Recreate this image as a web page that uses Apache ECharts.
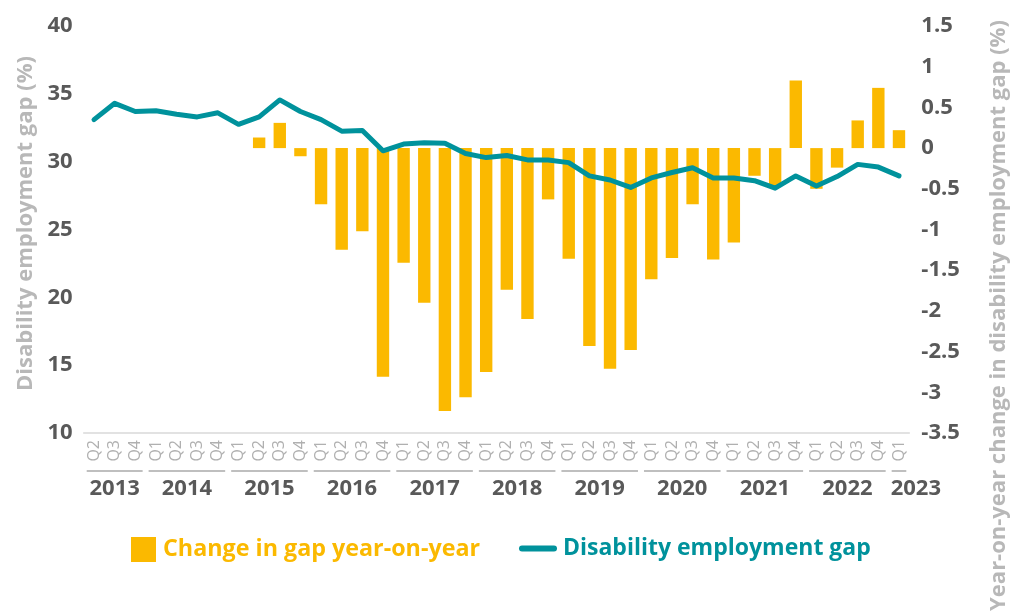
<!DOCTYPE html>
<html>
<head>
<meta charset="utf-8">
<title>Disability employment gap</title>
<script src="https://cdn.jsdelivr.net/npm/echarts@6/dist/echarts.min.js"></script>
<style>
  html, body { margin: 0; padding: 0; background: #ffffff; }
  #chart { width: 1014px; height: 614px; }
</style>
</head>
<body>
<div id="chart"></div>
<script>
// Quarterly periods, 2013 Q2 to 2023 Q1
const periods = [
  '2013 Q2', '2013 Q3', '2013 Q4',
  '2014 Q1', '2014 Q2', '2014 Q3', '2014 Q4',
  '2015 Q1', '2015 Q2', '2015 Q3', '2015 Q4',
  '2016 Q1', '2016 Q2', '2016 Q3', '2016 Q4',
  '2017 Q1', '2017 Q2', '2017 Q3', '2017 Q4',
  '2018 Q1', '2018 Q2', '2018 Q3', '2018 Q4',
  '2019 Q1', '2019 Q2', '2019 Q3', '2019 Q4',
  '2020 Q1', '2020 Q2', '2020 Q3', '2020 Q4',
  '2021 Q1', '2021 Q2', '2021 Q3', '2021 Q4',
  '2022 Q1', '2022 Q2', '2022 Q3', '2022 Q4',
  '2023 Q1'
];

// Disability employment gap (percentage points, left axis)
const gapValues = [
  33.1, 34.3, 33.7,
  33.75, 33.5, 33.3, 33.6,
  32.75, 33.3, 34.55, 33.7,
  33.1, 32.25, 32.3, 30.8,
  31.3, 31.4, 31.35, 30.6,
  30.3, 30.45, 30.13, 30.13,
  29.93, 28.95, 28.65, 28.1,
  28.8, 29.2, 29.55, 28.8,
  28.8, 28.6, 28.05, 28.95,
  28.2, 28.9, 29.8, 29.6,
  28.95
];

// Change in the gap on the same quarter a year earlier (right axis)
const changeValues = [
  null, null, null,
  null, null, null, null,
  null, 0.13, 0.31, -0.1,
  -0.69, -1.25, -1.02, -2.81,
  -1.41, -1.9, -3.23, -3.06,
  -2.75, -1.74, -2.1, -0.63,
  -1.36, -2.43, -2.71, -2.48,
  -1.61, -1.35, -0.69, -1.37,
  -1.16, -0.34, -0.47, 0.83,
  -0.5, -0.24, 0.34, 0.74,
  0.22
];

// Axis tick settings
const leftTicks = { min: 10, max: 40, interval: 5 };
const rightTicks = { min: -3.5, max: 1.5, interval: 0.5 };

const ORANGE = '#FBB900';
const TEAL = '#00929C';
const FONT = '"Open Sans", "Noto Sans", sans-serif';

// Group consecutive quarters by year for the second row of the category axis
const yearGroups = [];
periods.forEach(function (p, i) {
  const year = p.split(' ')[0];
  const last = yearGroups[yearGroups.length - 1];
  if (last && last.year === year) {
    last.end = i;
  } else {
    yearGroups.push({ year: year, start: i, end: i });
  }
});

const chart = echarts.init(document.getElementById('chart'), null, { renderer: 'canvas' });

chart.setOption({
  backgroundColor: '#ffffff',
  animation: false,
  grid: {
    left: 83.7,
    right: 104.7,
    top: 26,
    bottom: 181,
    outerBoundsMode: 'none'
  },
  legend: [
    {
      left: 126,
      top: 532,
      itemWidth: 25,
      itemHeight: 25,
      selectedMode: false,
      icon: 'rect',
      data: ['Change in gap year-on-year'],
      textStyle: { color: ORANGE, fontFamily: FONT, fontWeight: 'bold', fontSize: 23.3, padding: [0, 0, 0, 2] }
    },
    {
      left: 514,
      top: 532,
      itemWidth: 38,
      itemHeight: 6,
      selectedMode: false,
      icon: 'path://M3,0H35A3,3 0 0 1 35,6H3A3,3 0 0 1 3,0Z',
      data: ['Disability employment gap'],
      textStyle: { color: TEAL, fontFamily: FONT, fontWeight: 'bold', fontSize: 23, padding: [0, 0, 0, 1] }
    }
  ],
  xAxis: {
    type: 'category',
    data: periods,
    boundaryGap: true,
    axisLine: { show: true, onZero: false, lineStyle: { color: '#d9d9d9', width: 1.5 } },
    axisTick: { show: false },
    axisLabel: {
      interval: 0,
      rotate: 90,
      margin: 7,
      color: '#b0b0b0',
      fontFamily: FONT,
      fontSize: 16,
      formatter: function (v) { return v.split(' ')[1]; }
    },
    splitLine: { show: false }
  },
  yAxis: [
    {
      type: 'value',
      min: leftTicks.min,
      max: leftTicks.max,
      interval: leftTicks.interval,
      position: 'left',
      name: 'Disability employment gap (%)',
      nameLocation: 'middle',
      nameGap: 47,
      nameTextStyle: {
        color: '#b8b8b8', fontFamily: FONT, fontWeight: 'bold', fontSize: 22,
        padding: [0, 0, 0, 12]
      },
      axisLine: { show: false },
      axisTick: { show: false },
      splitLine: { show: false },
      axisLabel: { margin: 11, color: '#595959', fontFamily: FONT, fontWeight: 'bold', fontSize: 22 }
    },
    {
      type: 'value',
      min: rightTicks.min,
      max: rightTicks.max,
      interval: rightTicks.interval,
      position: 'right',
      name: 'Year-on-year change in disability employment gap (%)',
      nameLocation: 'middle',
      nameGap: 78,
      nameTextStyle: {
        color: '#b8b8b8', fontFamily: FONT, fontWeight: 'bold', fontSize: 22,
        padding: [0, 172, 0, 0]
      },
      axisLine: { show: false },
      axisTick: { show: false },
      splitLine: { show: false },
      axisLabel: { margin: 12, color: '#595959', fontFamily: FONT, fontWeight: 'bold', fontSize: 22 }
    }
  ],
  series: [
    {
      name: 'Change in gap year-on-year',
      type: 'bar',
      yAxisIndex: 1,
      data: changeValues,
      barWidth: '60%',
      itemStyle: { color: ORANGE },
      z: 2
    },
    {
      name: 'Disability employment gap',
      type: 'line',
      yAxisIndex: 0,
      data: gapValues,
      showSymbol: false,
      symbol: 'none',
      lineStyle: { color: TEAL, width: 5, join: 'round', cap: 'round' },
      itemStyle: { color: TEAL },
      z: 3
    },
    {
      // Year row beneath the quarter labels
      name: 'years',
      type: 'custom',
      silent: true,
      clip: false,
      yAxisIndex: 0,
      data: yearGroups.map(function (g) { return [g.start, g.end, leftTicks.min]; }),
      encode: { x: [0, 1], y: 2 },
      renderItem: function (params, api) {
        const group = yearGroups[params.dataIndex];
        const bw = api.size([1, 0])[0];
        const x0 = api.coord([api.value(0), leftTicks.min])[0] - bw / 2;
        const x1 = api.coord([api.value(1), leftTicks.min])[0] + bw / 2;
        const cs = params.coordSys;
        const base = cs.y + cs.height;
        // A single-quarter year is too narrow for its label, so it starts at the group edge
        const narrow = group.end === group.start;
        return {
          type: 'group',
          children: [
            {
              type: 'line',
              shape: { x1: x0 + 3, y1: base + 38, x2: x1 - 3, y2: base + 38 },
              style: { stroke: '#bfbfbf', lineWidth: 2 }
            },
            {
              type: 'text',
              style: {
                text: group.year,
                x: narrow ? x0 + 2 : (x0 + x1) / 2,
                y: base + 56,
                align: narrow ? 'left' : 'center',
                verticalAlign: 'middle',
                fill: '#595959',
                font: 'bold 22px ' + FONT
              }
            }
          ]
        };
      },
      z: 1
    }
  ]
});
</script>
</body>
</html>
